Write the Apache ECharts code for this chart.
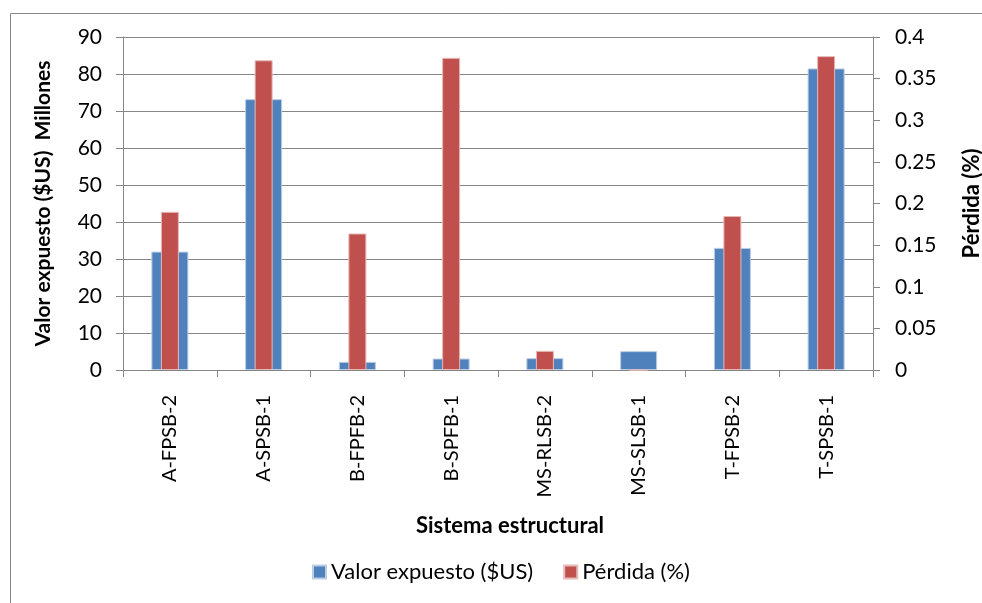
<!DOCTYPE html>
<html>
<head>
<meta charset="utf-8">
<script src="https://cdn.jsdelivr.net/npm/echarts@6/dist/echarts.min.js"></script>
<style>
  html, body { margin: 0; padding: 0; background: #fff; }
  #chart { width: 982px; height: 603px; }
</style>
</head>
<body>
<div id="chart"></div>
<script>
// datos
var sistemas = ['A-FPSB-2', 'A-SPSB-1', 'B-FPFB-2', 'B-SPFB-1', 'MS-RLSB-2', 'MS-SLSB-1', 'T-FPSB-2', 'T-SPSB-1'];
var valorExpuesto = [32, 73.2, 2.2, 3.1, 3.2, 5.1, 33, 81.5];   // millones $US
var perdida = [0.19, 0.372, 0.164, 0.375, 0.023, 0, 0.185, 0.377]; // %

var gris = '#868686';
var fuente = 'Lato';

var myChart = echarts.init(document.getElementById('chart'));

myChart.setOption({
    animation: false,
    color: ['#4F81BD', '#C0504D'],
    textStyle: { fontFamily: fuente },
    graphic: [{
        type: 'rect',
        shape: { x: 10.5, y: 13.5, width: 1000, height: 700 },
        style: { fill: 'none', stroke: gris, lineWidth: 1 },
        silent: true
    }],
    grid: { left: 123, right: 109, top: 37, bottom: 233, outerBoundsMode: 'none', containLabel: false },
    legend: {
        left: 307,
        top: 556,
        itemWidth: 13,
        itemHeight: 13,
        itemGap: 30,
        icon: 'rect',
        textStyle: { fontFamily: fuente, fontSize: 22, color: '#000' },
        data: ['Valor expuesto ($US)', 'Pérdida (%)']
    },
    xAxis: [
        {
            type: 'category',
            data: sistemas,
            name: 'Sistema estructural',
            nameLocation: 'middle',
            nameGap: 145,
            nameTextStyle: {
                fontFamily: fuente, fontWeight: 'bold', fontSize: 22, color: '#000',
                padding: [0, 0, 0, 24]
            },
            axisLine: { lineStyle: { color: gris } },
            axisTick: { show: true, length: 7, alignWithLabel: false, lineStyle: { color: gris } },
            axisLabel: {
                rotate: 90,
                margin: 25,
                interval: 0,
                fontFamily: fuente,
                fontSize: 20,
                color: '#000'
            }
        },
        {
            type: 'category',
            data: sistemas,
            show: false
        }
    ],
    yAxis: [
        {
            type: 'value',
            min: 0,
            max: 90,
            interval: 10,
            name: 'Valor expuesto ($US)  Millones',
            nameLocation: 'middle',
            nameRotate: 90,
            nameGap: 69,
            nameTextStyle: { fontFamily: fuente, fontWeight: 'bold', fontSize: 21, color: '#000' },
            axisLine: { show: true, lineStyle: { color: gris } },
            axisTick: { show: true, length: 7, lineStyle: { color: gris } },
            splitLine: { lineStyle: { color: gris } },
            axisLabel: { fontFamily: fuente, fontSize: 21, color: '#000', margin: 21 }
        },
        {
            type: 'value',
            position: 'right',
            min: 0,
            max: 0.4,
            interval: 0.05,
            name: 'Pérdida (%)',
            nameLocation: 'middle',
            nameRotate: 90,
            nameGap: 88,
            nameTextStyle: { fontFamily: fuente, fontWeight: 'bold', fontSize: 22, color: '#000' },
            axisLine: { show: true, lineStyle: { color: gris } },
            axisTick: { show: true, length: 7, lineStyle: { color: gris } },
            splitLine: { show: false },
            axisLabel: { fontFamily: fuente, fontSize: 21, color: '#000', margin: 22 }
        }
    ],
    series: [
        {
            name: 'Valor expuesto ($US)',
            type: 'bar',
            xAxisIndex: 0,
            yAxisIndex: 0,
            barWidth: 37,
            itemStyle: { color: '#4F81BD', borderColor: '#B9CDE5', borderWidth: 1 },
            data: valorExpuesto
        },
        {
            name: 'Pérdida (%)',
            type: 'bar',
            xAxisIndex: 1,
            yAxisIndex: 1,
            barWidth: 18,
            itemStyle: { color: '#C0504D', borderColor: '#E6B9B8', borderWidth: 1 },
            data: perdida
        }
    ]
});
</script>
</body>
</html>
